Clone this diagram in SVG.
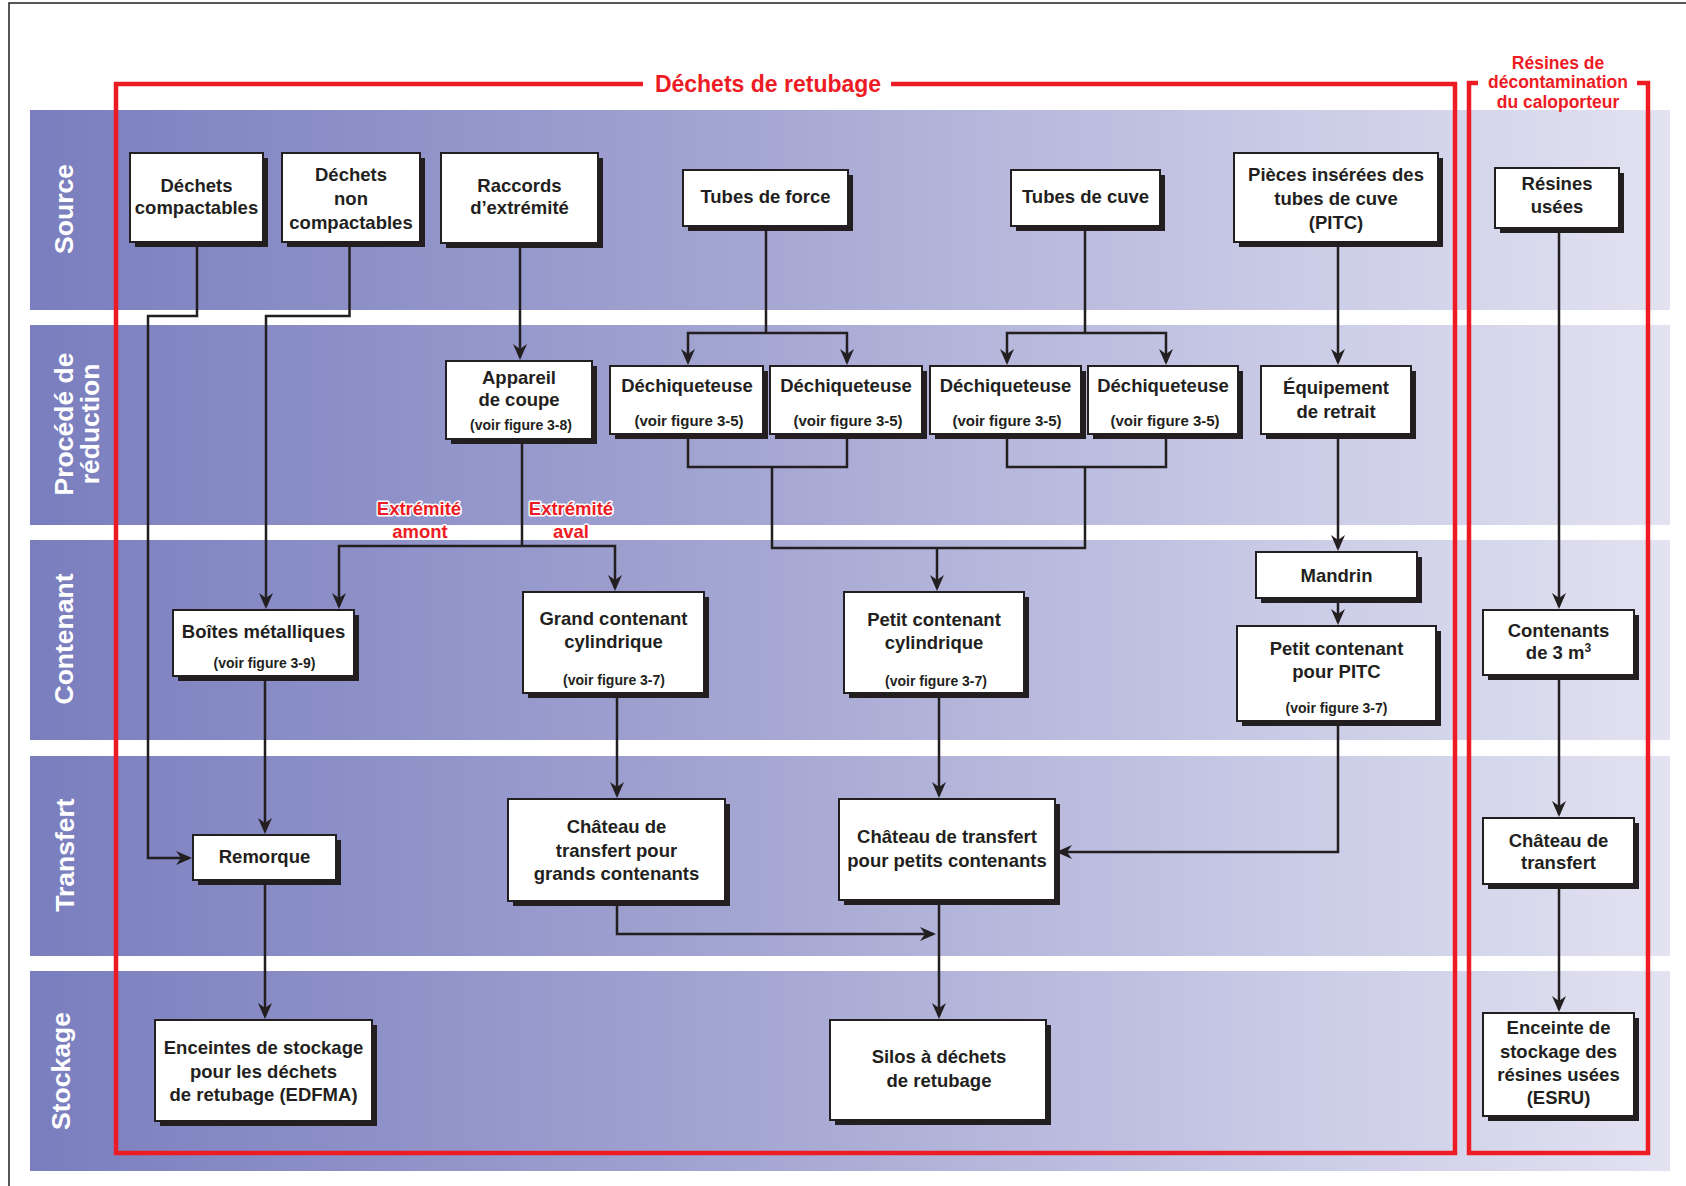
<svg xmlns="http://www.w3.org/2000/svg" width="1686" height="1186" viewBox="0 0 1686 1186">
<style>
.bs{fill:#231f20}
.bb{fill:#fff;stroke:#231f20;stroke-width:2}
.t{font-family:'Liberation Sans',Arial,sans-serif;font-weight:bold;font-size:18.5px;fill:#231f20;text-anchor:middle}
.sm{font-size:14px}
.sm15{font-size:15px}
.lane{font-family:'Liberation Sans',Arial,sans-serif;font-weight:bold;font-size:26.5px;fill:#fff;text-anchor:middle}
.red{font-family:'Liberation Sans',Arial,sans-serif;font-weight:bold;fill:#ed1c24;text-anchor:middle}
.halo{stroke:#fff;stroke-width:3;paint-order:stroke;stroke-linejoin:round}
.c{fill:none;stroke:#231f20;stroke-width:2.5}
.a{marker-end:url(#arr)}
.rb{fill:none;stroke:#ed1c24;stroke-width:4.5}
</style>
<defs>
<linearGradient id="band" gradientUnits="userSpaceOnUse" x1="30" y1="0" x2="1670" y2="0">
<stop offset="0" stop-color="#7a7ebe"/>
<stop offset="0.4" stop-color="#a0a2d0"/>
<stop offset="0.75" stop-color="#c8c9e5"/>
<stop offset="1" stop-color="#e2e2f1"/>
</linearGradient>
<marker id="arr" markerUnits="userSpaceOnUse" viewBox="0 0 16 14" refX="13" refY="7" markerWidth="16" markerHeight="14" orient="auto">
<path d="M0,0 L16,7 L0,14 L5,7 Z" fill="#231f20"/>
</marker>
</defs>
<rect x="0" y="0" width="1686" height="1186" fill="#fff"/>
<path d="M9,1186 V3 H1686" fill="none" stroke="#231f20" stroke-width="1.5"/>
<g id="bands">
<rect x="30" y="110" width="1640" height="200" fill="url(#band)"/>
<rect x="30" y="325" width="1640" height="200" fill="url(#band)"/>
<rect x="30" y="540" width="1640" height="200" fill="url(#band)"/>
<rect x="30" y="756" width="1640" height="200" fill="url(#band)"/>
<rect x="30" y="971" width="1640" height="200" fill="url(#band)"/>
</g>
<g id="lane-labels">
<text class="lane" transform="translate(73,209) rotate(-90)">Source</text>
<text class="lane" transform="translate(73,424) rotate(-90)">Procédé de</text>
<text class="lane" transform="translate(99,424) rotate(-90)">réduction</text>
<text class="lane" transform="translate(73,639) rotate(-90)">Contenant</text>
<text class="lane" transform="translate(74,855) rotate(-90)">Transfert</text>
<text class="lane" transform="translate(70,1071) rotate(-90)">Stockage</text>
</g>
<g id="groups">
<path class="rb" d="M643,84 H116 V1153 H1455 V84 H891"/>
<text class="red" x="768" y="92" font-size="23">Déchets de retubage</text>
<path class="rb" d="M1478,83 H1469 V1153 H1648 V83 H1637"/>
<text class="red" x="1558" y="68.5" font-size="17.5">Résines de</text>
<text class="red" x="1558" y="88" font-size="17.5">décontamination</text>
<text class="red" x="1558" y="107.5" font-size="17.5">du caloporteur</text>
</g>
<g id="connectors">
<path class="c a" d="M197,242 V316 H148 V858 H189"/>
<path class="c a" d="M349.5,242 V316 H266 V606"/>
<path class="c a" d="M520,243 V357"/>
<path class="c" d="M522,439 V546"/>
<path class="c a" d="M522,546 H339 V606"/>
<path class="c a" d="M522,546 H615 V588"/>
<path class="c" d="M766,226 V333"/>
<path class="c a" d="M766,333 H688 V362"/>
<path class="c a" d="M766,333 H847 V362"/>
<path class="c" d="M1085,226 V333"/>
<path class="c a" d="M1085,333 H1007 V362"/>
<path class="c a" d="M1085,333 H1166 V362"/>
<path class="c" d="M688,434 V467 H847 V434"/>
<path class="c" d="M1007,434 V467 H1166 V434"/>
<path class="c" d="M772,467 V548 H1085 V467"/>
<path class="c a" d="M937,548 V588"/>
<path class="c a" d="M1338,242 V362"/>
<path class="c a" d="M1338,434 V548"/>
<path class="c a" d="M1338,598 V622"/>
<path class="c a" d="M1338,721 V852 H1059"/>
<path class="c a" d="M1559,228 V606"/>
<path class="c a" d="M1559,675 V814"/>
<path class="c a" d="M1559,884 V1009"/>
<path class="c a" d="M265,676 V831"/>
<path class="c a" d="M265,880 V1016"/>
<path class="c a" d="M617,693 V795"/>
<path class="c a" d="M617,901 V934 H933"/>
<path class="c a" d="M939,693 V795"/>
<path class="c a" d="M939,900 V1016"/>
<text class="red halo" x="419" y="515" font-size="18.5">Extrémité</text>
<text class="red halo" x="420" y="538" font-size="18.5">amont</text>
<text class="red halo" x="571" y="515" font-size="18.5">Extrémité</text>
<text class="red halo" x="571" y="538" font-size="18.5">aval</text>
</g>
<g id="n-dechets-compactables">
<rect class="bs" x="135" y="158" width="133" height="89"/><rect class="bb" x="130" y="153" width="133" height="89"/>
<text class="t" x="196.5" y="192">Déchets</text><text class="t" x="196.5" y="214">compactables</text>
</g>
<g id="n-dechets-non-compactables">
<rect class="bs" x="287" y="158" width="138" height="89"/><rect class="bb" x="282" y="153" width="138" height="89"/>
<text class="t" x="351" y="181">Déchets</text><text class="t" x="351" y="205">non</text><text class="t" x="351" y="229">compactables</text>
</g>
<g id="n-raccords">
<rect class="bs" x="446" y="158" width="157" height="90"/><rect class="bb" x="441" y="153" width="157" height="90"/>
<text class="t" x="519.5" y="192">Raccords</text><text class="t" x="519.5" y="214">d’extrémité</text>
</g>
<g id="n-tubes-force">
<rect class="bs" x="688" y="175" width="165" height="56"/><rect class="bb" x="683" y="170" width="165" height="56"/>
<text class="t" x="765.5" y="203">Tubes de force</text>
</g>
<g id="n-tubes-cuve">
<rect class="bs" x="1016" y="175" width="149" height="56"/><rect class="bb" x="1011" y="170" width="149" height="56"/>
<text class="t" x="1085.5" y="203">Tubes de cuve</text>
</g>
<g id="n-pitc">
<rect class="bs" x="1239" y="158" width="204" height="89"/><rect class="bb" x="1234" y="153" width="204" height="89"/>
<text class="t" x="1336" y="181">Pièces insérées des</text><text class="t" x="1336" y="205">tubes de cuve</text><text class="t" x="1336" y="229">(PITC)</text>
</g>
<g id="n-resines-usees">
<rect class="bs" x="1500" y="173" width="124" height="60"/><rect class="bb" x="1495" y="168" width="124" height="60"/>
<text class="t" x="1557" y="190">Résines</text><text class="t" x="1557" y="213">usées</text>
</g>
<g id="n-appareil">
<rect class="bs" x="451" y="366" width="146" height="78"/><rect class="bb" x="446" y="361" width="146" height="78"/>
<text class="t" x="519" y="384">Appareil</text><text class="t" x="519" y="406">de coupe</text><text class="t sm" x="521" y="430">(voir figure 3-8)</text>
</g>
<g id="n-dech1">
<rect class="bs" x="615" y="371" width="153" height="68"/><rect class="bb" x="610" y="366" width="153" height="68"/>
<text class="t" x="687" y="392">Déchiqueteuse</text><text class="t sm15" x="689" y="426">(voir figure 3-5)</text>
</g>
<g id="n-dech2">
<rect class="bs" x="775" y="371" width="152" height="68"/><rect class="bb" x="770" y="366" width="152" height="68"/>
<text class="t" x="846" y="392">Déchiqueteuse</text><text class="t sm15" x="848" y="426">(voir figure 3-5)</text>
</g>
<g id="n-dech3">
<rect class="bs" x="935" y="371" width="151" height="68"/><rect class="bb" x="930" y="366" width="151" height="68"/>
<text class="t" x="1005.5" y="392">Déchiqueteuse</text><text class="t sm15" x="1007" y="426">(voir figure 3-5)</text>
</g>
<g id="n-dech4">
<rect class="bs" x="1093" y="371" width="150" height="68"/><rect class="bb" x="1088" y="366" width="150" height="68"/>
<text class="t" x="1163" y="392">Déchiqueteuse</text><text class="t sm15" x="1165" y="426">(voir figure 3-5)</text>
</g>
<g id="n-equipement">
<rect class="bs" x="1266" y="371" width="150" height="68"/><rect class="bb" x="1261" y="366" width="150" height="68"/>
<text class="t" x="1336" y="394">Équipement</text><text class="t" x="1336" y="418">de retrait</text>
</g>
<g id="n-boites">
<rect class="bs" x="178" y="615" width="181" height="66"/><rect class="bb" x="173" y="610" width="181" height="66"/>
<text class="t" x="263.5" y="638">Boîtes métalliques</text><text class="t sm" x="264.5" y="668">(voir figure 3-9)</text>
</g>
<g id="n-grand-contenant">
<rect class="bs" x="528" y="597" width="181" height="101"/><rect class="bb" x="523" y="592" width="181" height="101"/>
<text class="t" x="613.5" y="625">Grand contenant</text><text class="t" x="613.5" y="648">cylindrique</text><text class="t sm" x="614" y="685">(voir figure 3-7)</text>
</g>
<g id="n-petit-contenant">
<rect class="bs" x="849" y="597" width="180" height="101"/><rect class="bb" x="844" y="592" width="180" height="101"/>
<text class="t" x="934" y="626">Petit contenant</text><text class="t" x="934" y="649">cylindrique</text><text class="t sm" x="936" y="686">(voir figure 3-7)</text>
</g>
<g id="n-mandrin">
<rect class="bs" x="1261" y="557" width="161" height="46"/><rect class="bb" x="1256" y="552" width="161" height="46"/>
<text class="t" x="1336.5" y="582">Mandrin</text>
</g>
<g id="n-petit-pitc">
<rect class="bs" x="1242" y="631" width="199" height="95"/><rect class="bb" x="1237" y="626" width="199" height="95"/>
<text class="t" x="1336.5" y="655">Petit contenant</text><text class="t" x="1336.5" y="678">pour PITC</text><text class="t sm" x="1336.5" y="713">(voir figure 3-7)</text>
</g>
<g id="n-contenants-3m3">
<rect class="bs" x="1488" y="615" width="151" height="65"/><rect class="bb" x="1483" y="610" width="151" height="65"/>
<text class="t" x="1558.5" y="637">Contenants</text><text class="t" x="1558.5" y="659">de 3 m<tspan dy="-7" font-size="12">3</tspan></text>
</g>
<g id="n-remorque">
<rect class="bs" x="198" y="840" width="143" height="45"/><rect class="bb" x="193" y="835" width="143" height="45"/>
<text class="t" x="264.5" y="863">Remorque</text>
</g>
<g id="n-chateau-grands">
<rect class="bs" x="513" y="804" width="217" height="102"/><rect class="bb" x="508" y="799" width="217" height="102"/>
<text class="t" x="616.5" y="833">Château de</text><text class="t" x="616.5" y="857">transfert pour</text><text class="t" x="616.5" y="880">grands contenants</text>
</g>
<g id="n-chateau-petits">
<rect class="bs" x="844" y="804" width="216" height="101"/><rect class="bb" x="839" y="799" width="216" height="101"/>
<text class="t" x="947" y="843">Château de transfert</text><text class="t" x="947" y="867">pour petits contenants</text>
</g>
<g id="n-chateau-resines">
<rect class="bs" x="1488" y="823" width="151" height="66"/><rect class="bb" x="1483" y="818" width="151" height="66"/>
<text class="t" x="1558.5" y="847">Château de</text><text class="t" x="1558.5" y="869">transfert</text>
</g>
<g id="n-edfma">
<rect class="bs" x="160" y="1025" width="217" height="101"/><rect class="bb" x="155" y="1020" width="217" height="101"/>
<text class="t" x="263.5" y="1054">Enceintes de stockage</text><text class="t" x="263.5" y="1078">pour les déchets</text><text class="t" x="263.5" y="1101">de retubage (EDFMA)</text>
</g>
<g id="n-silos">
<rect class="bs" x="835" y="1025" width="216" height="100"/><rect class="bb" x="830" y="1020" width="216" height="100"/>
<text class="t" x="939" y="1063">Silos à déchets</text><text class="t" x="939" y="1087">de retubage</text>
</g>
<g id="n-esru">
<rect class="bs" x="1488" y="1018" width="151" height="103"/><rect class="bb" x="1483" y="1013" width="151" height="103"/>
<text class="t" x="1558.5" y="1034">Enceinte de</text><text class="t" x="1558.5" y="1058">stockage des</text><text class="t" x="1558.5" y="1081">résines usées</text><text class="t" x="1558.5" y="1104">(ESRU)</text>
</g>
</svg>
